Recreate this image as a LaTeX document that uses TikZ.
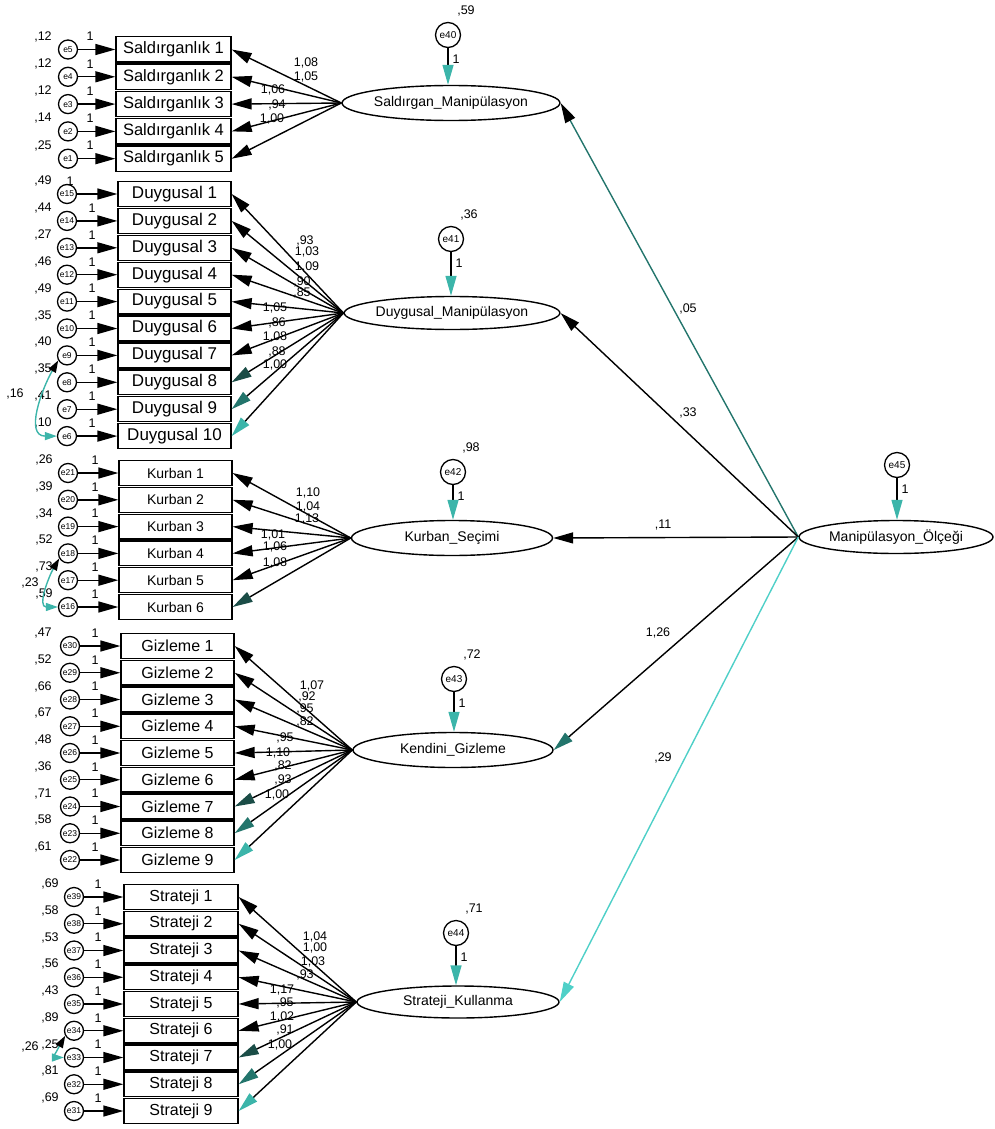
\documentclass[tikz,border=0pt]{standalone}
\usepackage{fontspec}
\setmainfont{Liberation Sans}
\usetikzlibrary{arrows.meta,shapes.geometric}
\definecolor{koyuturkuaz}{HTML}{1B4D47}
\definecolor{turkuaz}{HTML}{23756C}
\definecolor{acikturkuaz}{HTML}{3CB5AA}
\definecolor{camgobegi}{HTML}{4FD0C8}
\def\yazi#1{\fontsize{#1}{#1}\selectfont}
\tikzset{
  olcum/.style={draw, rectangle, line width=1.3pt, inner sep=0pt, fill=white},
  hata/.style={draw, circle, line width=1.3pt, inner sep=0pt, minimum size=19pt, font=\yazi{8.5}},
  gizil/.style={draw, ellipse, line width=1.4pt, inner sep=0pt, font=\yazi{14}},
  sayi/.style={inner sep=0pt, font=\yazi{12.5}},
  yol/.style={line width=1.4pt},
  ok/.style={-{Triangle[length=20pt,width=11pt,color=#1]}},
  ok/.default=black,
  kov/.style={line width=1.4pt, acikturkuaz,
    {Triangle[length=12pt,width=8pt,color=black]}-{Triangle[length=12pt,width=8pt,color=acikturkuaz]}}
}

\begin{document}
\begin{tikzpicture}[x=1pt, y=-1pt]
\useasboundingbox (0,0) rectangle (994,1129);

% gizil degiskenler
\node[gizil, minimum width=202pt, minimum height=35pt] (sal) at (451,103) {Saldırgan\_Manipülasyon};
\node[gizil, minimum width=200pt, minimum height=33pt] (duy) at (452,313) {Duygusal\_Manipülasyon};
\node[gizil, minimum width=201pt, minimum height=35pt] (kur) at (452,538) {Kurban\_Seçimi};
\node[gizil, minimum width=200pt, minimum height=35pt] (ken) at (453,750) {Kendini\_Gizleme};
\node[gizil, minimum width=202pt, minimum height=32pt] (str) at (458,1002) {Strateji\_Kullanma};
\node[gizil, minimum width=194pt, minimum height=33pt] (man) at (896,537) {Manipülasyon\_Ölçeği};

% ust duzey yollar
\draw[yol, turkuaz, ok] (man.west) -- (sal.east);
\draw[yol, ok] (man.west) -- (duy.east);
\draw[yol, ok] (man.west) -- (kur.east);
\draw[yol, ok=turkuaz] (man.west) -- (ken.east);
\draw[yol, camgobegi, ok=camgobegi] (man.west) -- (str.east);
\node[sayi] at (688,309) {,05};
\node[sayi] at (688,413) {,33};
\node[sayi] at (663,525) {,11};
\node[sayi] at (658,633) {1,26};
\node[sayi] at (663,758) {,29};

% gizil degisken hatalari
\foreach \g/\e/\ex/\ey/\var in {
  sal/40/448/35/{,59},
  duy/41/451/239/{,36},
  kur/42/453/472/{,98},
  ken/43/454/679/{,72},
  str/44/456/933/{,71}
} {
\node[hata, minimum size=25pt, font=\yazi{10}] (h\e) at (\ex,\ey) {e\e};
\draw[yol, ok=acikturkuaz] (h\e) -- (h\e |- \g.north);
\node[sayi] at (\ex+18,\ey-24) {\var};
\node[sayi] at (\ex+8,\ey+24) {1};
};
\node[hata, minimum size=25pt, font=\yazi{10}] (h45) at (897,465) {e45};
\draw[yol, ok=acikturkuaz] (h45) -- (h45 |- man.north);
\node[sayi] at (905,489) {1};

% Saldirganlik
\def\bx{116}\def\bw{115}\def\cx{68}\def\vx{43}\def\bix{90}
\foreach \i/\e/\var/\w/\lx/\ly/\tip in {
  1/5/{,12}/{1,08}/306/63/black,
  2/4/{,12}/{1,05}/306/77/black,
  3/3/{,12}/{1,06}/273/90/black,
  4/2/{,14}/{,94}/277/105/black,
  5/1/{,25}/{1,00}/272/119/black
} {
\pgfmathsetmacro\yy{49.5+(\i-1)*27.3}
\node[olcum, minimum width=\bw pt, minimum height=25.3pt, font=\yazi{16.5}] (sal\i) at (\bx+\bw/2,\yy) {Saldırganlık \i};
\node[hata] (h\e) at (\cx,\yy) {e\e};
\draw[yol, ok] (h\e) -- (sal\i);
\node[sayi] at (\vx,\yy-13) {\var};
\node[sayi] at (\bix,\yy-13) {1};
\draw[yol, ok=\tip] (sal.west) -- (sal\i.east);
\node[sayi] at (\lx,\ly) {\w};
};

% Duygusal
\def\bx{118}\def\bw{113}\def\cx{67}\def\vx{43}
\foreach \i/\e/\var/\w/\lx/\ly/\tip in {
  1/15/{,49}/{,93}/305/241/black,
  2/14/{,44}/{1,03}/307/252/black,
  3/13/{,27}/{1,09}/307/267/black,
  4/12/{,46}/{,90}/302/282/black,
  5/11/{,49}/{,85}/302/293/black,
  6/10/{,35}/{1,05}/275/308/black,
  7/9/{,40}/{,86}/277/323/black,
  8/8/{,35}/{1,08}/275/337/koyuturkuaz,
  9/7/{,41}/{,88}/277/352/turkuaz,
  10/6/{,10}/{1,00}/275/365/acikturkuaz
} {
\pgfmathsetmacro\yy{194+(\i-1)*26.9}
\ifnum\i=1 \def\bix{70}\else\def\bix{92}\fi
\node[olcum, minimum width=\bw pt, minimum height=24.9pt, font=\yazi{17}] (duy\i) at (\bx+\bw/2,\yy) {Duygusal \i};
\node[hata] (h\e) at (\cx,\yy) {e\e};
\draw[yol, ok] (h\e) -- (duy\i);
\node[sayi] at (\vx,\yy-13) {\var};
\node[sayi] at (\bix,\yy-13) {1};
\draw[yol, ok=\tip] (duy.west) -- (duy\i.east);
\node[sayi] at (\lx,\ly) {\w};
};

% Kurban
\def\bx{119}\def\bw{113}\def\cx{68}\def\vx{44}\def\bix{95}
\foreach \i/\e/\var/\w/\lx/\ly/\tip in {
  1/21/{,26}/{1,10}/308/493/black,
  2/20/{,39}/{1,04}/308/507/black,
  3/19/{,34}/{1,13}/307/519/black,
  4/18/{,52}/{1,01}/273/535/black,
  5/17/{,73}/{1,06}/275/547/black,
  6/16/{,59}/{1,08}/275/563/koyuturkuaz
} {
\pgfmathsetmacro\yy{473+(\i-1)*26.8}
\node[olcum, minimum width=\bw pt, minimum height=24.8pt, font=\yazi{14}] (kur\i) at (\bx+\bw/2,\yy) {Kurban \i};
\node[hata] (h\e) at (\cx,\yy) {e\e};
\draw[yol, ok] (h\e) -- (kur\i);
\node[sayi] at (\vx,\yy-13) {\var};
\node[sayi] at (\bix,\yy-13) {1};
\draw[yol, ok=\tip] (kur.west) -- (kur\i.east);
\node[sayi] at (\lx,\ly) {\w};
};

% Gizleme
\def\bx{121}\def\bw{113}\def\cx{70}\def\vx{43}\def\bix{95}
\foreach \i/\e/\var/\w/\lx/\ly/\tip in {
  1/30/{,47}/{1,07}/312/686/black,
  2/29/{,52}/{,92}/307/697/black,
  3/28/{,66}/{,95}/305/709/black,
  4/27/{,67}/{,82}/305/722/black,
  5/26/{,48}/{,95}/285/738/black,
  6/25/{,36}/{1,10}/278/753/black,
  7/24/{,71}/{,82}/283/766/koyuturkuaz,
  8/23/{,58}/{,93}/283/780/turkuaz,
  9/22/{,61}/{1,00}/277/795/acikturkuaz
} {
\pgfmathsetmacro\yy{646+(\i-1)*26.75}
\node[olcum, minimum width=\bw pt, minimum height=24.75pt, font=\yazi{16}] (giz\i) at (\bx+\bw/2,\yy) {Gizleme \i};
\node[hata] (h\e) at (\cx,\yy) {e\e};
\draw[yol, ok] (h\e) -- (giz\i);
\node[sayi] at (\vx,\yy-13) {\var};
\node[sayi] at (\bix,\yy-13) {1};
\draw[yol, ok=\tip] (ken.west) -- (giz\i.east);
\node[sayi] at (\lx,\ly) {\w};
};

% Strateji
\def\bx{124}\def\bw{114}\def\cx{74}\def\vx{50}\def\bix{98}
\foreach \i/\e/\var/\w/\lx/\ly/\tip in {
  1/39/{,69}/{1,04}/315/937/black,
  2/38/{,58}/{1,00}/315/948/black,
  3/37/{,53}/{1,03}/313/962/black,
  4/36/{,56}/{,93}/305/975/black,
  5/35/{,43}/{1,17}/282/990/black,
  6/34/{,89}/{,95}/285/1003/black,
  7/33/{,25}/{1,02}/282/1017/koyuturkuaz,
  8/32/{,81}/{,91}/285/1030/turkuaz,
  9/31/{,69}/{1,00}/280/1045/acikturkuaz
} {
\pgfmathsetmacro\yy{897+(\i-1)*26.75}
\node[olcum, minimum width=\bw pt, minimum height=24.75pt, font=\yazi{16}] (str\i) at (\bx+\bw/2,\yy) {Strateji \i};
\node[hata] (h\e) at (\cx,\yy) {e\e};
\draw[yol, ok] (h\e) -- (str\i);
\node[sayi] at (\vx,\yy-13) {\var};
\node[sayi] at (\bix,\yy-13) {1};
\draw[yol, ok=\tip] (str.west) -- (str\i.east);
\node[sayi] at (\lx,\ly) {\w};
};

% kovaryanslar
\draw[kov] (h9.210) to[out=240,in=180,looseness=1.1] (h6.west);
\node[sayi] at (15,394) {,16};
\draw[kov] (h18.210) to[out=240,in=180,looseness=1.1] (h16.west);
\node[sayi] at (30,583) {,23};
\draw[kov] (h34.210) to[out=240,in=180,looseness=1.2] (h33.west);
\node[sayi] at (30,1047) {,26};
\end{tikzpicture}
\end{document}
